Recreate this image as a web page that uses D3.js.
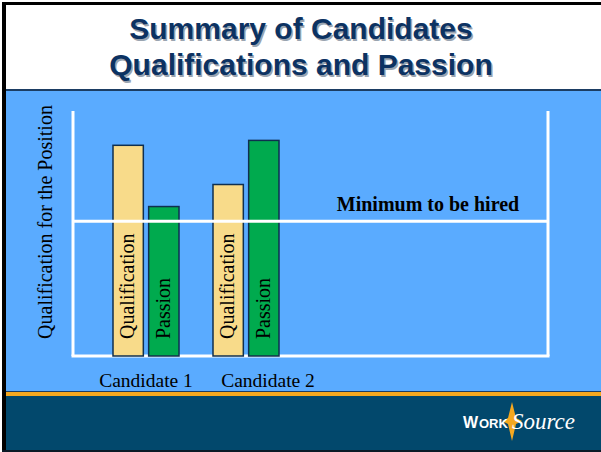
<!DOCTYPE html>
<meta charset="utf-8">
<style>
body { margin: 0; background: #fff; }
svg { display: block; }
</style>
<body>
<script src="https://d3js.org/d3.v7.min.js"></script>
<script>

// chart data
var candidates = ["Candidate 1", "Candidate 2"];
var series = ["Qualification", "Passion"];
var qualification = [86, 70];
var passion = [61, 88];
var minimumLevel = 55;
var titleLines = ["Summary of Candidates", "Qualifications and Passion"];
var yLabel = "Qualification for the Position";
var minimumLabel = "Minimum to be hired";

var W = 601, H = 452;

var svg = d3.select("body").append("svg")
    .attr("width", W)
    .attr("height", H);

// slide background pieces
svg.append("rect").attr("width", W).attr("height", H).attr("fill", "#fff");
svg.append("rect").attr("x", 5).attr("y", 90).attr("width", W - 5).attr("height", 303).attr("fill", "#5aabff");
svg.append("rect").attr("x", 5).attr("y", 89).attr("width", W - 5).attr("height", 2).attr("fill", "#1b3d63");
svg.append("rect").attr("x", 5).attr("y", 391).attr("width", W - 5).attr("height", 1).attr("fill", "#1b3d63");
svg.append("rect").attr("x", 5).attr("y", 392).attr("width", W - 5).attr("height", 4).attr("fill", "#f5a81f");
svg.append("rect").attr("x", 5).attr("y", 396).attr("width", W - 5).attr("height", 56).attr("fill", "#02486c");
// frame
svg.append("rect").attr("x", 2).attr("y", 2).attr("width", W).attr("height", 3).attr("fill", "#000");
svg.append("rect").attr("x", 2).attr("y", 2).attr("width", 4).attr("height", H).attr("fill", "#000");
svg.append("rect").attr("x", 2).attr("y", 450).attr("width", W).attr("height", 2).attr("fill", "#0a1a26");

// title
var title = svg.append("g")
    .attr("font-family", "Liberation Sans, Arial, sans-serif")
    .attr("font-weight", "bold")
    .attr("font-size", 30)
    .attr("text-anchor", "middle");
titleLines.forEach(function(t, i) {
  title.append("text")
      .attr("x", 301 + 1.5).attr("y", 39 + i * 36 + 1.5)
      .attr("fill", "#9aa4b0")
      .text(t);
  title.append("text")
      .attr("x", 301).attr("y", 39 + i * 36)
      .attr("fill", "#0c3262")
      .text(t);
});

// scales
var y = d3.scaleLinear().domain([0, 100]).range([356, 111]);
var x0 = d3.scaleBand().domain(candidates).range([96, 296]).paddingInner(0.34).paddingOuter(0.17);
var x1 = d3.scaleBand().domain(series).range([0, x0.bandwidth()]).paddingInner(0.15);
var xLabel = d3.scalePoint().domain(candidates).range([146, 268]);
var plotLeft = 73, plotRight = 548;

// white frame lines
var frame = svg.append("g").attr("stroke", "#fff").attr("stroke-width", 3).attr("fill", "none");
frame.append("line").attr("x1", plotLeft).attr("x2", plotLeft).attr("y1", y(100)).attr("y2", y(0));
frame.append("line").attr("x1", plotRight).attr("x2", plotRight).attr("y1", y(100)).attr("y2", y(0));
frame.append("line").attr("x1", plotLeft - 1.5).attr("x2", plotRight + 1.5).attr("y1", y(0)).attr("y2", y(0));

// bars
var rows = [];
candidates.forEach(function(c, i) {
  rows.push({cand: c, key: "Qualification", value: qualification[i]});
  rows.push({cand: c, key: "Passion", value: passion[i]});
});
var color = d3.scaleOrdinal().domain(series).range(["#f8db8a", "#00aa4e"]);

var bar = svg.selectAll("g.bar")
  .data(rows)
  .enter().append("g")
    .attr("class", "bar")
    .attr("transform", function(d) { return "translate(" + (x0(d.cand) + x1(d.key)) + ",0)"; });

bar.append("rect")
    .attr("x", 0)
    .attr("y", function(d) { return y(d.value); })
    .attr("width", x1.bandwidth())
    .attr("height", function(d) { return y(0) - y(d.value); })
    .attr("fill", function(d) { return color(d.key); })
    .attr("stroke", "#0f2f4f")
    .attr("stroke-width", 1.5);

// minimum line (drawn over bars)
svg.append("line")
    .attr("x1", plotLeft).attr("x2", plotRight)
    .attr("y1", y(minimumLevel)).attr("y2", y(minimumLevel))
    .attr("stroke", "#fff").attr("stroke-width", 3);

bar.append("text")
    .attr("transform", function(d) { return "translate(" + (x1.bandwidth() / 2 + 6) + "," + (y(0) - 17) + ") rotate(-90)"; })
    .attr("font-family", "Liberation Serif, Times New Roman, serif")
    .attr("font-size", 20)
    .attr("fill", "#000")
    .text(function(d) { return d.key; });

svg.append("text")
    .attr("x", 428).attr("y", 211)
    .attr("text-anchor", "middle")
    .attr("font-family", "Liberation Serif, Times New Roman, serif")
    .attr("font-weight", "bold")
    .attr("font-size", 20)
    .text(minimumLabel);

// axis label
svg.append("text")
    .attr("transform", "translate(52,222) rotate(-90)")
    .attr("text-anchor", "middle")
    .attr("font-family", "Liberation Serif, Times New Roman, serif")
    .attr("font-size", 20)
    .text(yLabel);

// candidate labels
svg.selectAll("text.cand")
  .data(candidates)
  .enter().append("text")
    .attr("class", "cand")
    .attr("x", function(d) { return xLabel(d); })
    .attr("y", 387)
    .attr("text-anchor", "middle")
    .attr("font-family", "Liberation Serif, Times New Roman, serif")
    .attr("font-size", 19.5)
    .text(function(d) { return d; });

// logo
var logo = svg.append("g").attr("fill", "#fff");
logo.append("path")
    .attr("d", "M512,402 L516,418 L522,421 L516,424 L512,441 L508,424 L502,421 L508,418 Z")
    .attr("fill", "#f5a81f");
logo.append("text")
    .attr("x", 463).attr("y", 428)
    .attr("font-family", "Liberation Sans, Arial, sans-serif")
    .attr("font-weight", "bold")
    .attr("font-size", 16)
    .text("W");
logo.append("text")
    .attr("x", 479).attr("y", 428)
    .attr("font-family", "Liberation Sans, Arial, sans-serif")
    .attr("font-weight", "bold")
    .attr("font-size", 13)
    .text("ORK");
logo.append("text")
    .attr("x", 512).attr("y", 429)
    .attr("font-family", "Liberation Serif, Times New Roman, serif")
    .attr("font-style", "italic")
    .attr("font-size", 23)
    .text("Source");

</script>
</body>
